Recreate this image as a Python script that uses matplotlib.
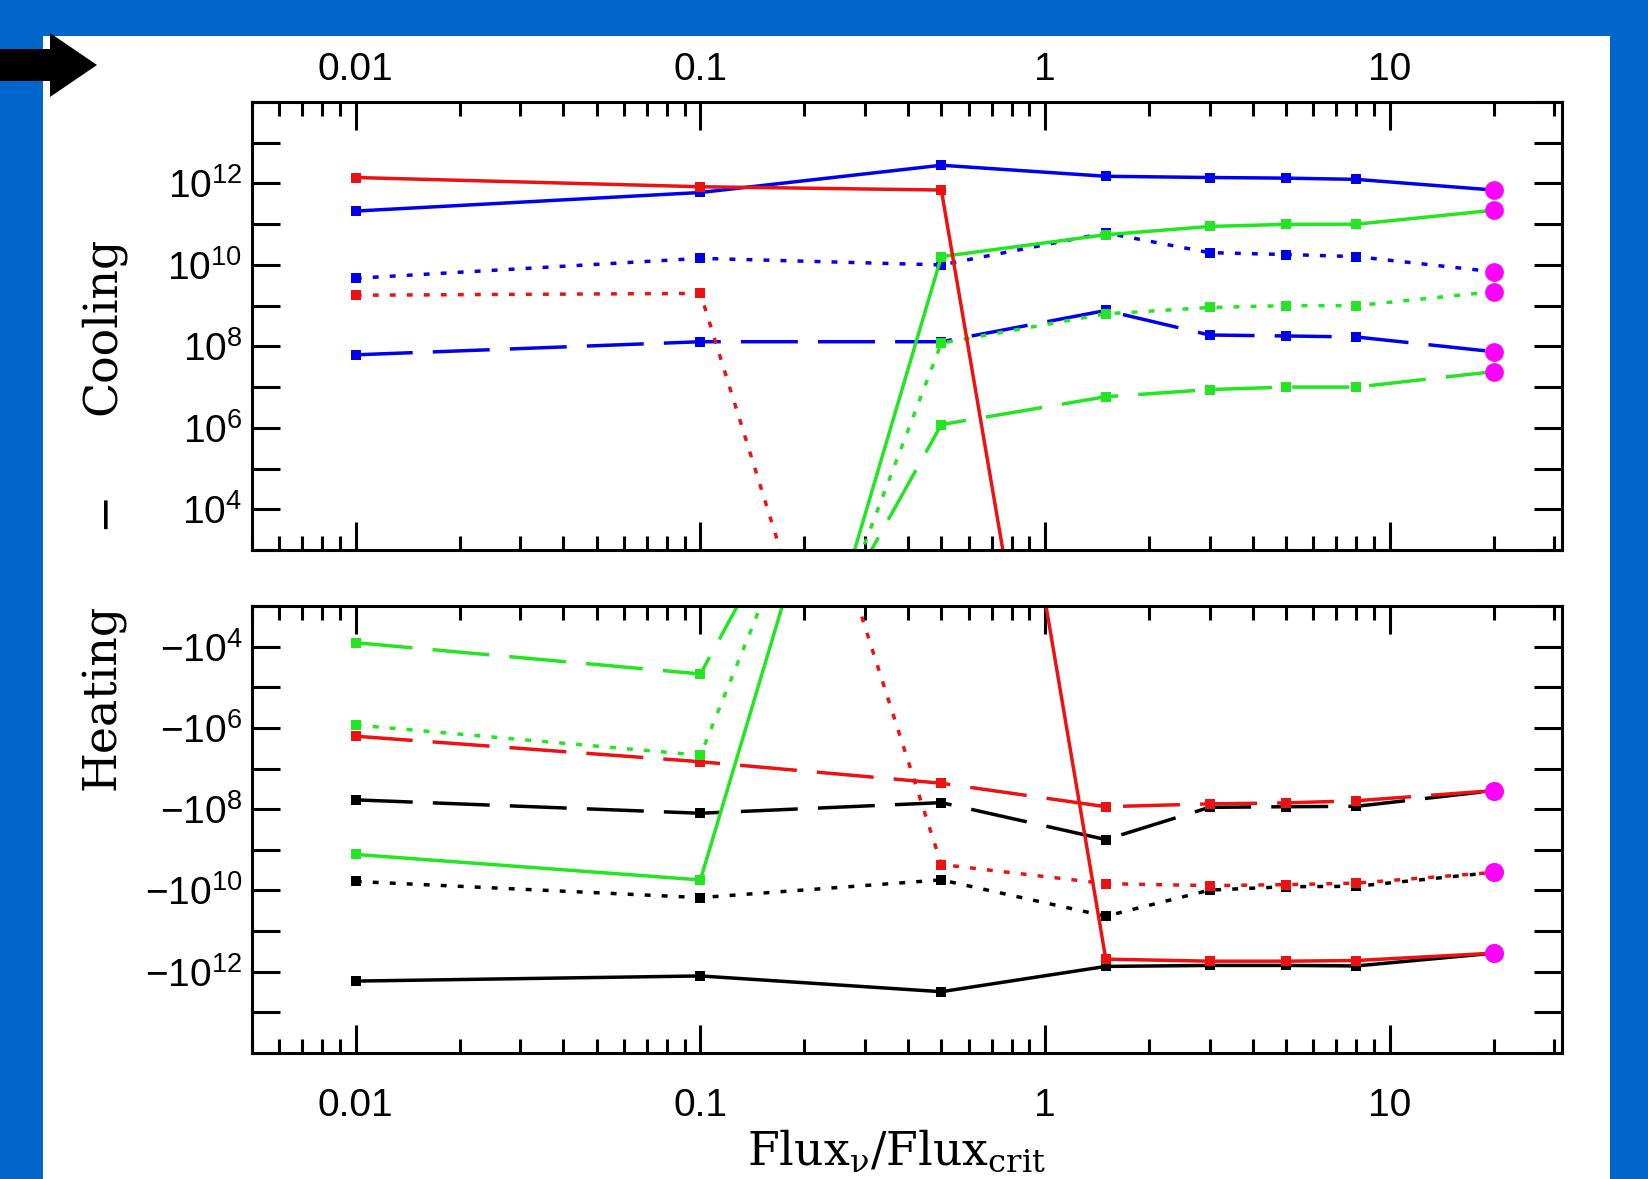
import matplotlib
matplotlib.use("Agg")
import matplotlib.pyplot as plt
import numpy as np
from matplotlib.patches import Rectangle, Polygon
from matplotlib.ticker import FixedLocator, LogLocator, FuncFormatter, NullFormatter, NullLocator

nan = np.nan

flux = [0.01, 0.1, 0.5, 1.5, 3, 5, 8, 20]
x_ticks = [0.01, 0.1, 1, 10]
x_tick_labels = ["0.01", "0.1", "1", "10"]

# upper panel (cooling > 0); nan = not drawn
cool_red_solid = [1.4e12, 8.3e11, 6.9e11, 1.6e-12, nan, nan, nan, nan]
cool_red_dot = [1.8e9, 2.0e9, 2e-10, nan, nan, nan, nan, nan]
cool_blue_solid = [2.1e11, 6e11, 2.8e12, 1.5e12, 1.4e12, 1.35e12, 1.26e12, 6.9e11]
cool_blue_dot = [4.7e9, 1.45e10, 1e10, 6.1e10, 2e10, 1.8e10, 1.6e10, 6.8e9]
cool_blue_dash = [6.2e7, 1.3e8, 1.3e8, 7.6e8, 1.9e8, 1.8e8, 1.7e8, 7.4e7]
cool_green_solid = [nan, 1.6e-10, 1.6e10, 5.5e10, 8.8e10, 9.9e10, 1e11, 2.2e11]
cool_green_dot = [nan, 4e-8, 1.2e8, 6.3e8, 9e8, 1e9, 1e9, 2.2e9]
cool_green_dash = [nan, 3e-5, 1.2e6, 5.8e6, 8.7e6, 1e7, 1e7, 2.4e7]

# lower panel (heating < 0)
heat_black_solid = [-1.7e12, -1.27e12, -3.1e12, -7.4e11, -7e11, -7e11, -7.2e11, -3.5e11]
heat_black_dot = [-6e9, -1.5e10, -5.5e9, -4.3e10, -9.8e9, -8.1e9, -7.9e9, -3.6e9]
heat_black_dash = [-5.9e7, -1.26e8, -6.9e7, -5.6e8, -9e7, -8.7e7, -8.5e7, -3.5e7]
heat_red_solid = [nan, nan, -6e-13, -4.9e11, -5.5e11, -5.5e11, -5.3e11, -3.5e11]
heat_red_dot = [nan, -8e-10, -2.3e9, -6.8e9, -7.6e9, -7.2e9, -6.6e9, -3.6e9]
heat_red_dash = [-1.6e6, -6.8e6, -2.3e7, -8.7e7, -7.4e7, -7e7, -6.2e7, -3.5e7]
heat_green_solid = [-1.3e9, -5.5e9, -8e-11, nan, nan, nan, nan, nan]
heat_green_dot = [-8.5e5, -4.7e6, -1e-8, nan, nan, nan, nan, nan]
heat_green_dash = [-8e3, -4.7e4, -6e-7, nan, nan, nan, nan, nan]

RED = "#ee1111"
BLUE = "#0000ee"
GREEN = "#22e622"
MAGENTA = "#ff00ff"
SOLID = "-"
DOT = (0, (1.7, 3.2))
DASH = (0, (16.4, 5.8))

W, H = 1648, 1179
plt.rcParams['mathtext.default'] = 'regular'
tick_font = dict(family=['Liberation Sans', 'DejaVu Sans'], size=28)
label_font = dict(family=['DejaVu Serif'], size=33)


def draw(ax, vals, color, style):
    vals = np.abs(np.array(vals, dtype=float))
    ax.plot(flux, vals, color=color, linestyle=style, lw=2.5,
            marker='s', ms=7, mew=0, dash_capstyle='butt')
    if not np.isnan(vals[-1]):
        ax.plot(flux[-1], vals[-1], 'o', color=MAGENTA, ms=13.5, mew=0, zorder=5)


def style_axes(ax, sign, labeltop):
    ax.set_xscale('log')
    ax.set_yscale('log')
    ax.set_xlim(0.005, 31.6)
    ax.set_ylim(1e3, 1e14)
    ax.xaxis.set_major_locator(FixedLocator(x_ticks))
    ax.xaxis.set_major_formatter(FuncFormatter(
        lambda v, p: x_tick_labels[x_ticks.index(v)] if v in x_ticks else ""))
    ax.xaxis.set_minor_locator(LogLocator(base=10, subs=np.arange(2, 10), numticks=30))
    ax.xaxis.set_minor_formatter(NullFormatter())
    ax.yaxis.set_major_locator(FixedLocator(10.0 ** np.arange(3, 15)))
    ax.yaxis.set_minor_locator(NullLocator())

    def yfmt(v, p):
        e = int(round(np.log10(v)))
        if e % 2 == 0 and 4 <= e <= 12:
            return sign + "10$^{%d}$" % e
        return ""
    ax.yaxis.set_major_formatter(FuncFormatter(yfmt))
    ax.tick_params(which='both', direction='in', top=True, right=True,
                   bottom=True, left=True, width=2.2, color='black')
    ax.tick_params(which='major', length=20)
    ax.tick_params(which='minor', length=10)
    ax.tick_params(axis='y', pad=7)
    if labeltop:
        ax.tick_params(axis='x', labeltop=True, labelbottom=False, pad=10)
    else:
        ax.tick_params(axis='x', labeltop=False, labelbottom=True, pad=25)
    for lab in ax.get_xticklabels() + ax.get_yticklabels():
        lab.set_fontfamily(tick_font['family'])
        lab.set_fontsize(tick_font['size'])
    for s in ax.spines.values():
        s.set_linewidth(2.2)


fig = plt.figure(figsize=(W / 100, H / 100), dpi=100)
fig.patch.set_facecolor('#0066cc')
fig.add_artist(Rectangle((43 / W, 0), (1610 - 43) / W, 1 - 36 / H,
                         transform=fig.transFigure, facecolor='white',
                         edgecolor='none', zorder=-1))
arrow = [(0, 49), (50, 49), (50, 33), (97, 65), (50, 97), (50, 81), (0, 81)]
fig.add_artist(Polygon([(px / W, 1 - py / H) for px, py in arrow], closed=True,
                       transform=fig.transFigure, facecolor='black', edgecolor='none'))

ax1 = fig.add_axes([252 / W, 1 - 550 / H, 1310 / W, 448 / H])
ax2 = fig.add_axes([252 / W, 1 - 1053 / H, 1310 / W, 447 / H])

draw(ax1, cool_blue_solid, BLUE, SOLID)
draw(ax1, cool_blue_dot, BLUE, DOT)
draw(ax1, cool_blue_dash, BLUE, DASH)
draw(ax1, cool_green_solid, GREEN, SOLID)
draw(ax1, cool_green_dot, GREEN, DOT)
draw(ax1, cool_green_dash, GREEN, DASH)
draw(ax1, cool_red_solid, RED, SOLID)
draw(ax1, cool_red_dot, RED, DOT)

draw(ax2, heat_black_solid, 'black', SOLID)
draw(ax2, heat_black_dot, 'black', DOT)
draw(ax2, heat_black_dash, 'black', DASH)
draw(ax2, heat_red_solid, RED, SOLID)
draw(ax2, heat_red_dot, RED, DOT)
draw(ax2, heat_red_dash, RED, DASH)
draw(ax2, heat_green_solid, GREEN, SOLID)
draw(ax2, heat_green_dot, GREEN, DOT)
draw(ax2, heat_green_dash, GREEN, DASH)

style_axes(ax1, "", True)
style_axes(ax2, "\u2212", False)
ax2.invert_yaxis()

# y label split over both panels: "Heating - Cooling"
bx = 115 / W
fig.text(bx, 1 - 697 / H, "Heating", rotation=90, rotation_mode='anchor',
         ha='center', va='baseline', **label_font)
fig.text(bx, 1 - 510 / H, "\u2212", rotation=90, rotation_mode='anchor',
         ha='center', va='baseline', **label_font)
fig.text(bx, 1 - 326 / H, "Cooling", rotation=90, rotation_mode='anchor',
         ha='center', va='baseline', **label_font)
fig.text(747 / W, 1 - 1165 / H, "Flux$_{\u03bd}$/Flux$_{crit}$",
         ha='left', va='baseline', **label_font)

fig.savefig("out.png", dpi=100, facecolor=fig.get_facecolor())
